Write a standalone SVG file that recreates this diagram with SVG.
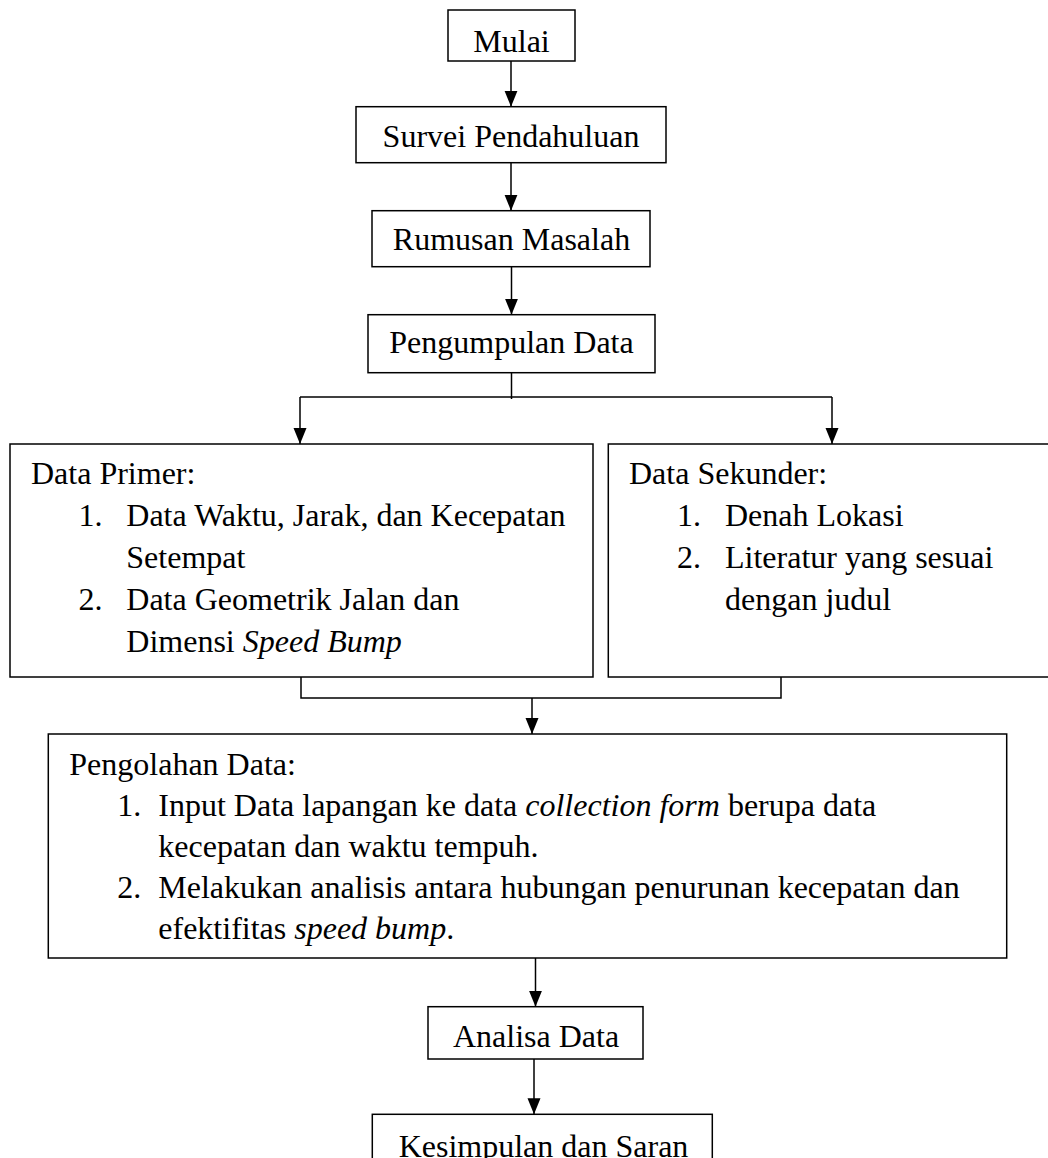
<svg xmlns="http://www.w3.org/2000/svg" width="1048" height="1158" viewBox="0 0 1048 1158">
<style>
  .box { fill: #ffffff; stroke: #000000; stroke-width: 1.5; }
  .t { font-family: "Liberation Serif", "Times New Roman", serif; font-size: 32px; fill: #000000; }
  .c { text-anchor: middle; }
  .i { font-style: italic; }
  .ln { fill: none; stroke: #000000; stroke-width: 1.5; }
  .arr { fill: none; stroke: #000000; stroke-width: 1.5; marker-end: url(#ah); }
</style>
<defs>
  <marker id="ah" markerUnits="userSpaceOnUse" markerWidth="16" markerHeight="14" refX="16" refY="7" orient="auto">
    <path d="M0,0.5 L16,7 L0,13.5 z" fill="#000000"/>
  </marker>
</defs>
<rect x="0" y="0" width="1048" height="1158" fill="#ffffff"/>

<g id="connectors">
  <line class="arr" x1="511" y1="61" x2="511" y2="106.7"/>
  <line class="arr" x1="511" y1="162.7" x2="511" y2="210.7"/>
  <line class="arr" x1="511.5" y1="266.7" x2="511.5" y2="314.7"/>
  <line class="ln" x1="511.5" y1="372.7" x2="511.5" y2="399"/>
  <line class="ln" x1="300" y1="397" x2="832" y2="397"/>
  <line class="arr" x1="300" y1="397" x2="300" y2="444"/>
  <line class="arr" x1="832" y1="397" x2="832" y2="444"/>
  <polyline class="ln" points="301,677 301,698 781,698 781,677"/>
  <line class="arr" x1="532" y1="698" x2="532" y2="734"/>
  <line class="arr" x1="535.5" y1="958" x2="535.5" y2="1006.7"/>
  <line class="arr" x1="534" y1="1059" x2="534" y2="1114.3"/>
</g>

<g id="mulai">
  <rect class="box" x="448" y="10" width="127" height="51"/>
  <text class="t c" x="511.5" y="52">Mulai</text>
</g>

<g id="survei">
  <rect class="box" x="356" y="106.7" width="310" height="56"/>
  <text class="t c" x="511" y="146.7">Survei Pendahuluan</text>
</g>

<g id="rumusan">
  <rect class="box" x="372" y="210.7" width="278" height="56"/>
  <text class="t c" x="511.5" y="250">Rumusan Masalah</text>
</g>

<g id="pengumpulan">
  <rect class="box" x="368" y="314.7" width="287" height="58"/>
  <text class="t c" x="511.5" y="353.3">Pengumpulan Data</text>
</g>

<g id="data-primer">
  <rect class="box" x="10" y="444" width="583" height="233"/>
  <text class="t" x="31" y="484">Data Primer:</text>
  <text class="t" x="78.5" y="526">1.</text>
  <text class="t" x="126.3" y="526">Data Waktu, Jarak, dan Kecepatan</text>
  <text class="t" x="126.3" y="568">Setempat</text>
  <text class="t" x="78.5" y="610">2.</text>
  <text class="t" x="126.3" y="610">Data Geometrik Jalan dan</text>
  <text class="t" x="126.3" y="652">Dimensi <tspan class="i">Speed Bump</tspan></text>
</g>

<g id="data-sekunder">
  <rect class="box" x="608.3" y="444" width="460" height="233"/>
  <text class="t" x="629" y="484">Data Sekunder:</text>
  <text class="t" x="677" y="526">1.</text>
  <text class="t" x="725" y="526">Denah Lokasi</text>
  <text class="t" x="677" y="568">2.</text>
  <text class="t" x="725" y="568">Literatur yang sesuai</text>
  <text class="t" x="725" y="610">dengan judul</text>
</g>

<g id="pengolahan">
  <rect class="box" x="48.3" y="734" width="958.4" height="224"/>
  <text class="t" x="69.3" y="775">Pengolahan Data:</text>
  <text class="t" x="117.3" y="816">1.</text>
  <text class="t" x="158.3" y="816">Input Data lapangan ke data <tspan class="i">collection form</tspan> berupa data</text>
  <text class="t" x="158.3" y="857">kecepatan dan waktu tempuh.</text>
  <text class="t" x="117.3" y="898">2.</text>
  <text class="t" x="158.3" y="898">Melakukan analisis antara hubungan penurunan kecepatan dan</text>
  <text class="t" x="158.3" y="939">efektifitas <tspan class="i">speed bump</tspan>.</text>
</g>

<g id="analisa">
  <rect class="box" x="428" y="1006.7" width="215" height="52.3"/>
  <text class="t c" x="536" y="1046.7">Analisa Data</text>
</g>

<g id="kesimpulan">
  <rect class="box" x="372.3" y="1114.3" width="340" height="60"/>
  <text class="t c" x="543.5" y="1157">Kesimpulan dan Saran</text>
</g>
</svg>
